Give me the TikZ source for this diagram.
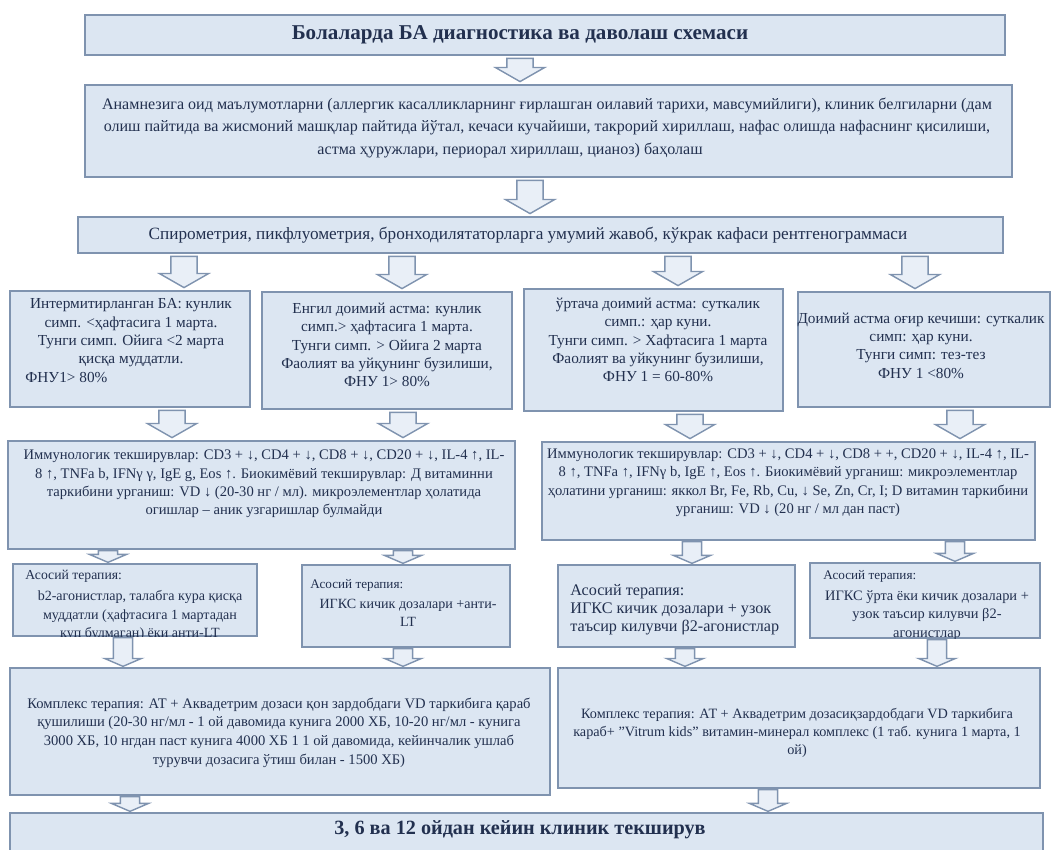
\documentclass[tikz,border=0pt]{standalone}
\usepackage{fontspec}
\setmainfont{Liberation Serif}
\usepackage{xcolor}
\usetikzlibrary{calc, shadows}

\definecolor{boxfill}{HTML}{DCE6F2}
\definecolor{boxline}{HTML}{7F93AF}
\definecolor{arrfill}{HTML}{E9EFF7}
\definecolor{txtcol}{HTML}{22304F}

\newdimen\arrsw
\newdimen\arrhw
\newdimen\arrhl
\newdimen\arrgap
\newcommand{\bigarrows}{\arrsw=7.5pt \arrhw=14pt \arrhl=8pt \arrgap=1.5pt}
\newcommand{\smallarrows}{\arrsw=5.5pt \arrhw=10.5pt \arrhl=4.5pt \arrgap=0.5pt}
\newcommand{\blkarrow}[3]{%
	\draw[blkarr] let \p1=(#2.south), \p2=(#3.north), \p3=(#1,0) in
		(\x3-\arrsw,\y1-\arrgap) -- (\x3+\arrsw,\y1-\arrgap) -- (\x3+\arrsw,\y2+\arrgap+\arrhl)
		-- (\x3+\arrhw,\y2+\arrgap+\arrhl) -- (\x3,\y2+\arrgap) -- (\x3-\arrhw,\y2+\arrgap+\arrhl)
		-- (\x3-\arrsw,\y2+\arrgap+\arrhl) -- cycle;}

\tikzset{
	box/.style={draw=boxline, line width=0.9pt, fill=boxfill, inner sep=0pt,
		drop shadow={shadow xshift=0.8pt, shadow yshift=-0.8pt, opacity=0.3}},
	txt/.style={text=txtcol, align=center, inner sep=0pt, font=\fontsize{8.7}{10.4}\selectfont},
	titletxt/.style={txt, font=\fontsize{12}{14}\selectfont\bfseries},
	anamtxt/.style={txt, font=\fontsize{9.15}{12.8}\selectfont},
	immtxt/.style={txt, font=\fontsize{8.3}{10.5}\selectfont},
	thtxt/.style={txt, font=\fontsize{8}{10.3}\selectfont},
	headtxt/.style={txt, anchor=west, font=\fontsize{7.5}{9}\selectfont},
	cxtxt/.style={txt, font=\fontsize{8.3}{10.6}\selectfont},
	blkarr/.style={draw=boxline, line width=0.8pt, fill=arrfill, line join=miter}
}

\begin{document}
\begin{tikzpicture}[x=0.02cm, y=-0.02cm]
	\useasboundingbox (0,0) rectangle (1053,849);

	\node[box, minimum width=18.4cm, minimum height=0.8cm] (title) at (545,35) {};
	\node[titletxt] (titlet) at (520,35) {Болаларда БА диагностика ва даволаш схемаси};

	\node[box, minimum width=18.54cm, minimum height=1.84cm] (anam) at (548.5,131) {};
	\node[anamtxt] (anamt) at (547,127.5) {Анамнезига оид маълумотларни (аллергик касалликларнинг ғирлашган оилавий тарихи, мавсумийлиги), клиник белгиларни (дам\\
		олиш пайтида ва жисмоний машқлар пайтида йўтал, кечаси кучайиши, такрорий хириллаш, нафас олишда нафаснинг қисилиши,\\
		астма ҳуружлари, периорал хириллаш, цианоз) баҳолаш\hspace*{42pt}};

	\node[box, minimum width=18.5cm, minimum height=0.72cm] (spiro) at (540.5,235) {};
	\node[anamtxt, font=\fontsize{9.8}{12}\selectfont] (spirot) at (528,235) {Спирометрия, пикфлуометрия, бронходилятаторларга умумий жавоб, кўкрак кафаси рентгенограммаси};

	% bosqich darajalari
	\node[box, minimum width=4.8cm, minimum height=2.32cm] (intA) at (130,349) {};
	\node[txt] (intAt) at (131,333) {Интермитирланган БА: кунлик\\симп. <ҳафтасига 1 марта.\\Тунги симп. Ойига <2 марта\\қисқа муддатли.};
	\node[txt, anchor=west] (intAf) at (25,378) {ФНУ1> 80\%};

	\node[box, minimum width=5.0cm, minimum height=2.34cm] (lightB) at (387,350.5) {};
	\node[txt] (lightBt) at (387,345) {Енгил доимий астма: кунлик\\симп.> ҳафтасига 1 марта.\\Тунги симп. > Ойига 2 марта\\Фаолият ва уйқунинг бузилиши,\\ФНУ 1> 80\%};

	\node[box, minimum width=5.18cm, minimum height=2.44cm] (modC) at (653.5,350) {};
	\node[txt] (modCt) at (658,340) {ўртача доимий астма: суткалик\\симп.: ҳар куни.\\Тунги симп. > Хафтасига 1 марта\\Фаолият ва уйкунинг бузилиши,\\ФНУ 1 = 60-80\%};

	\node[box, minimum width=5.04cm, minimum height=2.3cm] (sevD) at (924,349.5) {};
	\node[txt] (sevDt) at (921,345.5) {Доимий астма оғир кечиши: суткалик\\симп: ҳар куни.\\Тунги симп: тез-тез\\ФНУ 1 <80\%};

	% tekshiruvlar
	\node[box, minimum width=10.14cm, minimum height=2.16cm] (immL) at (261.5,495) {};
	\node[immtxt] (immLt) at (264,484) {Иммунологик текширувлар: CD3 + ↓, CD4 + ↓, CD8 + ↓, CD20 + ↓, IL-4 ↑, IL-\\
		8 ↑, TNFa b, IFNγ γ, IgE g, Eos ↑. Биокимёвий текширувлар: Д витаминни\\
		таркибини урганиш: VD ↓ (20-30 нг / мл). микроэлементлар ҳолатида\\
		огишлар – аник узгаришлар булмайди};

	\node[box, minimum width=9.86cm, minimum height=1.96cm] (immR) at (788.5,491) {};
	\node[immtxt] (immRt) at (788,482.5) {Иммунологик текширувлар: CD3 + ↓, CD4 + ↓, CD8 + +, CD20 + ↓, IL-4 ↑, IL-\\
		8 ↑, TNFa ↑, IFNγ b, IgE ↑, Eos ↑. Биокимёвий урганиш: микроэлементлар\\
		ҳолатини урганиш: яккол Br, Fe, Rb, Cu, ↓ Se, Zn, Cr, I; D витамин таркибини\\
		урганиш: VD ↓ (20 нг / мл дан паст)};

	% asosiy terapiya
	\node[box, minimum width=4.88cm, minimum height=1.44cm] (thA) at (135,600) {};
	\node[headtxt, font=\fontsize{7.8}{9}\selectfont] (thAh) at (25,576) {Асосий терапия:};
	\begin{scope}
		\clip (thA.south west) rectangle (thA.north east);
		\node[thtxt] (thAt) at (140,615.5) {b2-агонистлар, талабга кура қисқа\\муддатли (ҳафтасига 1 мартадан\\куп булмаган) ёки анти-LT};
	\end{scope}

	\node[box, minimum width=4.16cm, minimum height=1.64cm] (thB) at (406,606) {};
	\node[headtxt] (thBh) at (310,585) {Асосий терапия:};
	\node[thtxt] (thBt) at (408,612.5) {ИГКС кичик дозалари +анти-\\LT};

	\node[box, minimum width=4.74cm, minimum height=1.64cm] (thC) at (676.5,606) {};
	\node[thtxt, anchor=west, align=left, font=\fontsize{9.2}{10.3}\selectfont] (thCt) at (570,610) {Асосий терапия:\\ИГКС кичик дозалари + узок\\таъсир килувчи β2-агонистлар};

	\node[box, minimum width=4.6cm, minimum height=1.5cm] (thD) at (925,600.5) {};
	\node[headtxt] (thDh) at (823,576) {Асосий терапия:};
	\begin{scope}
		\clip (thD.south west) rectangle (thD.north east);
		\node[thtxt, font=\fontsize{8.2}{10.3}\selectfont] (thDt) at (927,615.5) {ИГКС ўрта ёки кичик дозалари +\\узок таъсир килувчи β2-\\агонистлар};
	\end{scope}

	% kompleks terapiya
	\node[box, minimum width=10.8cm, minimum height=2.54cm] (cxL) at (280,731.5) {};
	\node[cxtxt] (cxLt) at (279,732.5) {Комплекс терапия: АТ + Аквадетрим дозаси қон зардобдаги VD таркибига қараб\\
		қушилиши (20-30 нг/мл - 1 ой давомида кунига 2000 ХБ, 10-20 нг/мл - кунига\\
		3000 ХБ, 10 нгдан паст кунига 4000 ХБ 1 1 ой давомида, кейинчалик ушлаб\\
		турувчи дозасига ўтиш билан - 1500 ХБ)};

	\node[box, minimum width=9.64cm, minimum height=2.4cm] (cxR) at (799,728) {};
	\node[cxtxt, font=\fontsize{8.1}{10.2}\selectfont] (cxRt) at (797,733) {Комплекс терапия: АТ + Аквадетрим дозасиқзардобдаги VD таркибига\\
		караб+ "Vitrum kids" витамин-минерал комплекс (1 таб. кунига 1 марта, 1\\
		ой)};

	\node[box, minimum width=20.66cm, minimum height=1.14cm] (final) at (526.5,841.5) {};
	\node[titletxt, font=\fontsize{11.5}{14}\selectfont\bfseries] (finalt) at (520,830) {3, 6 ва 12 ойдан кейин клиник текширув};

	\bigarrows
	\blkarrow{520}{title}{anam}
	\blkarrow{530}{anam}{spiro}
	\blkarrow{184}{spiro}{intA}
	\blkarrow{402}{spiro}{lightB}
	\blkarrow{678}{spiro}{modC}
	\blkarrow{915}{spiro}{sevD}
	\blkarrow{172}{intA}{immL}
	\blkarrow{403}{lightB}{immL}
	\blkarrow{690}{modC}{immR}
	\blkarrow{960}{sevD}{immR}

	\smallarrows
	\blkarrow{108}{immL}{thA}
	\blkarrow{403}{immL}{thB}
	\blkarrow{692}{immR}{thC}
	\blkarrow{955}{immR}{thD}
	\blkarrow{123}{thA}{cxL}
	\blkarrow{403}{thB}{cxL}
	\blkarrow{685}{thC}{cxR}
	\blkarrow{937}{thD}{cxR}
	\blkarrow{130}{cxL}{final}
	\blkarrow{768}{cxR}{final}
\end{tikzpicture}
\end{document}
